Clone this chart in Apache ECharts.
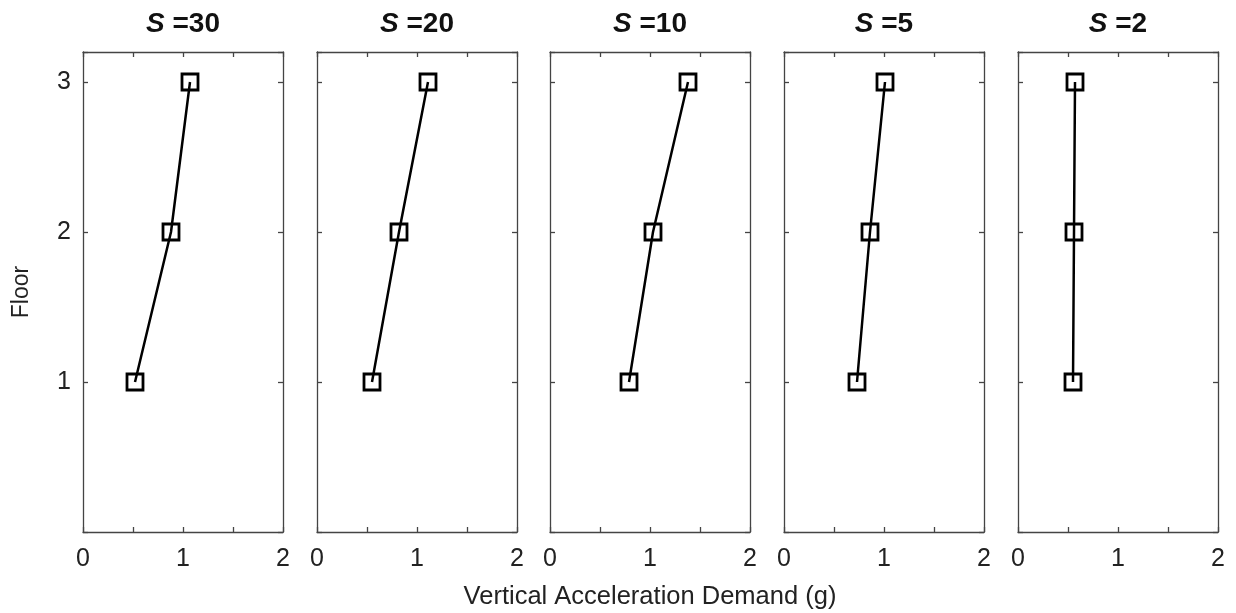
<!DOCTYPE html>
<html>
<head>
<meta charset="utf-8">
<script src="https://cdn.jsdelivr.net/npm/echarts@6/dist/echarts.min.js"></script>
<style>html,body{margin:0;padding:0;background:#fff}#c{width:1236px;height:613px}</style>
</head>
<body>
<div id="c"></div>
<script>
// Data
const floors = [1, 2, 3];
const panelLabels = ['30', '20', '10', '5', '2'];
const s30 = [0.52, 0.88, 1.07];
const s20 = [0.55, 0.82, 1.11];
const s10 = [0.79, 1.03, 1.38];
const s5  = [0.73, 0.86, 1.01];
const s2  = [0.55, 0.56, 0.57];
const panelValues = [s30, s20, s10, s5, s2];
const xTicks = [0, 1, 2];
const yTicks = [1, 2, 3];

const FONT = '"Liberation Sans", Arial, sans-serif';
const AX = '#444';
const lefts = [83, 317, 550, 784, 1018];
const W = 200, TOP = 52, H = 480;

const grids = [], xAxes = [], yAxes = [], series = [], titles = [];
lefts.forEach((l, i) => {
  grids.push({left: l, top: TOP, width: W, height: H, containLabel: false, outerBoundsMode: 'none'});
  const common = () => ({
    type: 'value', gridIndex: i,
    axisLine: {show: true, onZero: false, lineStyle: {color: AX, width: 1.3}},
    axisTick: {show: true, inside: true, length: 5, lineStyle: {color: AX, width: 1.3}},
    splitLine: {show: false}
  });
  xAxes.push(Object.assign(common(), {
    position: 'bottom', min: 0, max: 2, interval: 0.5,
    axisLabel: {show: true, margin: 15, fontSize: 25, color: '#222', fontFamily: FONT,
      showMinLabel: true, showMaxLabel: true,
      formatter: v => xTicks.includes(v) ? String(v) : ''},
    name: i === 2 ? 'Vertical Acceleration Demand (g)' : '',
    nameLocation: 'middle', nameGap: 52,
    nameTextStyle: {fontSize: 25.5, color: '#222', fontFamily: FONT}
  }));
  xAxes.push(Object.assign(common(), {
    position: 'top', min: 0, max: 2, interval: 0.5, axisLabel: {show: false}
  }));
  yAxes.push(Object.assign(common(), {
    position: 'left', min: 0, max: 3.2, interval: 1,
    axisLabel: {show: i === 0, margin: 12, fontSize: 25, color: '#222', fontFamily: FONT,
      formatter: v => yTicks.includes(v) ? String(v) : ''},
    name: i === 0 ? 'Floor' : '',
    nameLocation: 'middle', nameRotate: 90, nameGap: 50,
    nameTextStyle: {fontSize: 23, color: '#222', fontFamily: FONT}
  }));
  yAxes.push(Object.assign(common(), {
    position: 'right', min: 0, max: 3.2, interval: 1, axisLabel: {show: false}
  }));
  series.push({
    type: 'line', xAxisIndex: 2 * i, yAxisIndex: 2 * i,
    data: floors.map((f, j) => [panelValues[i][j], f]),
    symbol: 'rect', symbolSize: 16,
    lineStyle: {color: '#000', width: 2.5},
    itemStyle: {color: 'rgba(0,0,0,0)', borderColor: '#000', borderWidth: 2.8},
    emphasis: {disabled: true}, silent: true, z: 3
  });
  titles.push({
    text: '{i|S} =' + panelLabels[i],
    left: l + W / 2 - 5, top: 5, textAlign: 'center',
    textStyle: {fontSize: 28, fontWeight: 'bold', color: '#111', fontFamily: FONT,
      rich: {i: {fontSize: 28, fontWeight: 'bold', fontStyle: 'italic', color: '#111', fontFamily: FONT}}}
  });
});

const chart = echarts.init(document.getElementById('c'), null, {renderer: 'canvas'});
chart.setOption({
  animation: false,
  backgroundColor: '#fff',
  title: titles,
  grid: grids,
  xAxis: xAxes,
  yAxis: yAxes,
  series: series
});
</script>
</body>
</html>
